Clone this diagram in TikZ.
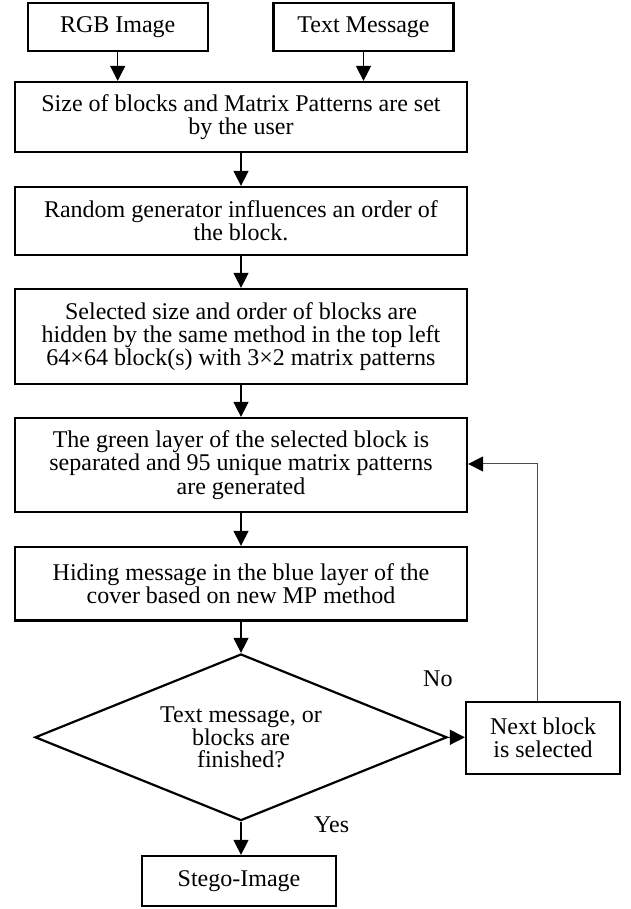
\documentclass[tikz,border=0pt]{standalone}
\usepackage{fontspec}
\setmainfont{Liberation Serif}
\usetikzlibrary{arrows.meta,shapes.geometric}
\begin{document}
\begin{tikzpicture}[x=1pt,y=1pt,
  box/.style={draw=black,line width=2.2pt,rectangle,inner sep=0pt,align=center,
    font=\fontsize{24}{23.3}\selectfont},
  dia/.style={draw=black,line width=2.2pt,diamond,aspect=2.47,inner sep=0pt,align=center,
    minimum width=412pt,minimum height=166.6pt,font=\fontsize{24}{21.7}\selectfont},
  arr/.style={draw=black,line width=1.2pt,-{Triangle[length=15pt,width=15pt]}},
  fb/.style={draw=black!70,line width=1pt,-{Triangle[length=15pt,width=15pt,color=black]}},
  lbl/.style={inner sep=0pt,anchor=base west,font=\fontsize{24}{24}\selectfont}]
\useasboundingbox (0,0) rectangle (630,909);
\node[box,minimum width=180pt,minimum height=48pt] (rgb) at (117.7,882) {RGB Image};
\node[box,minimum width=180pt,minimum height=48pt] (txt) at (363.5,882) {Text Message};
\node[box,minimum width=452pt,minimum height=70pt] (b1) at (241,792)
  {Size of blocks and Matrix Patterns are set\\by the user};
\node[box,minimum width=452pt,minimum height=68pt] (b2) at (241,688)
  {Random generator influences an order of\\the block.};
\node[box,minimum width=452pt,minimum height=95pt] (b3) at (241,572.5)
  {Selected size and order of blocks are\\hidden by the same method in the top left\\64×64 block(s) with 3×2 matrix patterns};
\node[box,minimum width=452pt,minimum height=94pt] (b4) at (241,444)
  {The green layer of the selected block is\\separated and 95 unique matrix patterns\\are generated};
\node[box,minimum width=452pt,minimum height=73.5pt] (b5) at (241,325.3)
  {Hiding message in the blue layer of the\\cover based on new MP method};
\node[dia] (d) at (241,171.7) {Text message, or\\blocks are\\finished?};
\node[box,minimum width=154pt,minimum height=71.5pt] (nx) at (543,171) {Next block\\is selected};
\node[box,minimum width=194pt,minimum height=50pt] (st) at (239,28) {Stego-Image};
\node[lbl] (no) at (423,222) {No};
\node[lbl] (yes) at (314,76) {Yes};
\coordinate (fbc) at (537,445);
\draw[arr] (rgb.south) -- (rgb.south |- b1.north);
\draw[arr] (txt.south) -- (txt.south |- b1.north);
\draw[arr] (b1) -- (b2);
\draw[arr] (b2) -- (b3);
\draw[arr] (b3) -- (b4);
\draw[arr] (b4) -- (b5);
\draw[arr] (b5) -- (d);
\draw[arr] (d.east) -- (nx.west |- d.east);
\draw[arr] (d.south) -- (d.south |- st.north);
\draw[fb] (nx.north -| fbc) -- (fbc) -- (fbc -| b4.east);
\end{tikzpicture}
\end{document}
